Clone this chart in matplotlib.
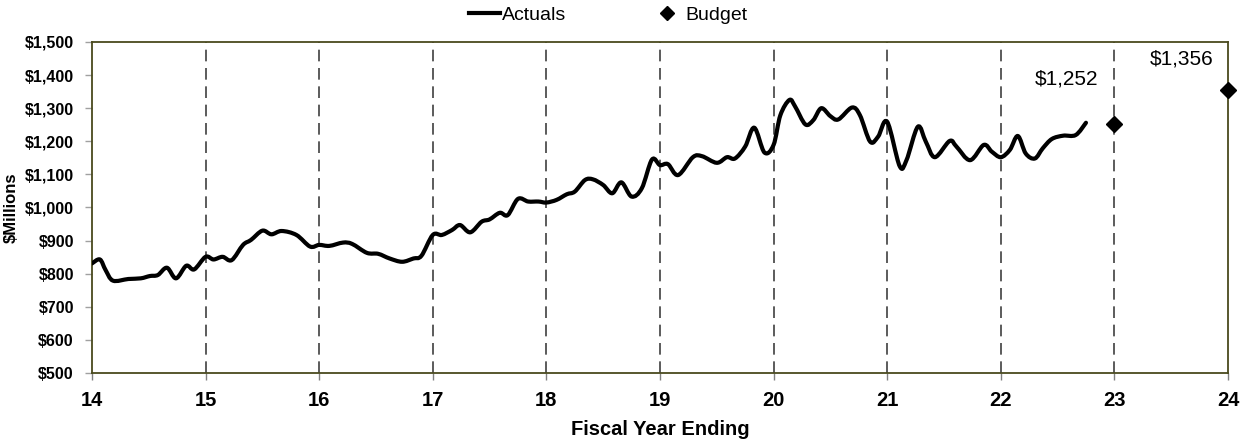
import matplotlib
matplotlib.use("Agg")
import matplotlib.pyplot as plt
from matplotlib.path import Path
from matplotlib.patches import PathPatch
from matplotlib.lines import Line2D
from matplotlib.ticker import FuncFormatter
import numpy as np

plt.rcParams['font.family'] = ['Liberation Sans', 'DejaVu Sans']

# ---- data ----
actual_x = [14.00, 14.07, 14.12, 14.185, 14.32, 14.43, 14.51, 14.58, 14.66, 14.74,
            14.83, 14.90, 15.00, 15.07, 15.15, 15.23, 15.33, 15.40, 15.50, 15.58,
            15.67, 15.80, 15.92, 16.00, 16.09, 16.21, 16.29, 16.42, 16.52, 16.62,
            16.73, 16.83, 16.90, 17.00, 17.08, 17.17, 17.24, 17.33, 17.43, 17.50,
            17.59, 17.66, 17.75, 17.84, 17.93, 18.00, 18.09, 18.18, 18.25, 18.34,
            18.41, 18.50, 18.58, 18.66, 18.75, 18.84, 18.93, 19.00, 19.07, 19.16,
            19.29, 19.37, 19.50, 19.59, 19.66, 19.75, 19.83, 19.92, 20.00, 20.06,
            20.14, 20.19, 20.28, 20.35, 20.42, 20.50, 20.57, 20.69, 20.76, 20.85,
            20.92, 21.00, 21.11, 21.17, 21.27, 21.34, 21.42, 21.55, 21.61, 21.73,
            21.85, 21.92, 22.00, 22.08, 22.15, 22.22, 22.30, 22.37, 22.45, 22.55,
            22.66, 22.75]
actual_y = [831, 843, 811, 779, 784, 786, 793, 796, 818, 786,
            824, 813, 851, 843, 851, 841, 887, 902, 930, 919,
            929, 917, 882, 887, 884, 894, 890, 863, 860, 846,
            836, 846, 854, 917, 917, 932, 947, 925, 957, 964,
            984, 977, 1026, 1018, 1018, 1015, 1023, 1040, 1048, 1083,
            1085, 1068, 1043, 1076, 1033, 1058, 1145, 1128, 1131, 1098,
            1152, 1155, 1135, 1152, 1148, 1184, 1241, 1166, 1189, 1279,
            1325, 1305, 1251, 1264, 1300, 1276, 1266, 1302, 1279, 1199,
            1214, 1259, 1125, 1143, 1244, 1199, 1152, 1201, 1184, 1143,
            1189, 1169, 1152, 1174, 1216, 1163, 1148, 1179, 1207, 1217,
            1219, 1256]
budget_x = [23, 24]
budget_y = [1252, 1356]
budget_labels = ["$1,252", "$1,356"]
year_ticks = list(range(14, 25))
y_ticks = list(range(500, 1501, 100))

fig = plt.figure(figsize=(12.41, 4.42), dpi=100)
ax = fig.add_axes([0.0741, 0.1561, 0.9154, 0.7489])

# smoothed line (Catmull-Rom -> cubic Bezier), drawn as a path in data coords
P = np.column_stack([actual_x, actual_y]).astype(float)
ext = np.vstack([P[0], P, P[-1]])
verts = [tuple(P[0])]
codes = [Path.MOVETO]
for i in range(1, len(ext) - 2):
    p0, p1, p2, p3 = ext[i - 1], ext[i], ext[i + 1], ext[i + 2]
    c1 = p1 + (p2 - p0) / 6.0
    c2 = p2 - (p3 - p1) / 6.0
    verts += [tuple(c1), tuple(c2), tuple(p2)]
    codes += [Path.CURVE4] * 3
path = Path(verts, codes)
ax.add_patch(PathPatch(path, fill=False, edgecolor='black', lw=3.0,
                       capstyle='round', joinstyle='round', zorder=3))

ax.plot(budget_x, budget_y, linestyle='none', marker='D', color='black',
        markersize=8, clip_on=False, zorder=4)

label_pos = [(22.58, 1388), (23.59, 1449)]
for (lx, ly), t in zip(label_pos, budget_labels):
    ax.text(lx, ly, t, ha='center', va='center', fontsize=15, color='black')

ax.set_xlim(14, 24)
ax.set_ylim(500, 1500)
ax.set_xticks(year_ticks)
ax.set_yticks(y_ticks)
ax.yaxis.set_major_formatter(FuncFormatter(lambda v, p: f"${int(v):,}"))
for x in year_ticks[1:-1]:
    ax.axvline(x, color='#404040', lw=1.2, linestyle=(0, (7, 4)), zorder=1)

for s in ax.spines.values():
    s.set_color('#4a4a1e')
    s.set_linewidth(1.3)

ax.tick_params(axis='x', length=5, width=1, color='#808080', pad=8, labelsize=14.5)
ax.tick_params(axis='y', length=5, width=1, color='#a0a0a0', pad=8, labelsize=11.5)
for lab in ax.get_xticklabels() + ax.get_yticklabels():
    lab.set_fontweight('bold')

ax.set_xlabel("Fiscal Year Ending", fontsize=14.5, fontweight='bold', labelpad=7)
ax.set_ylabel("$Millions", fontsize=12, fontweight='bold', labelpad=4)

handles = [Line2D([], [], color='black', lw=3),
           Line2D([], [], color='black', marker='D', linestyle='none', markersize=7)]
fig.legend(handles, ["Actuals", "Budget"], loc='center', bbox_to_anchor=(0.49, 0.966),
           ncol=2, frameon=False, fontsize=14, handlelength=1.6, handletextpad=0.1,
           columnspacing=4.4)

fig.savefig("out.png", dpi=100)
